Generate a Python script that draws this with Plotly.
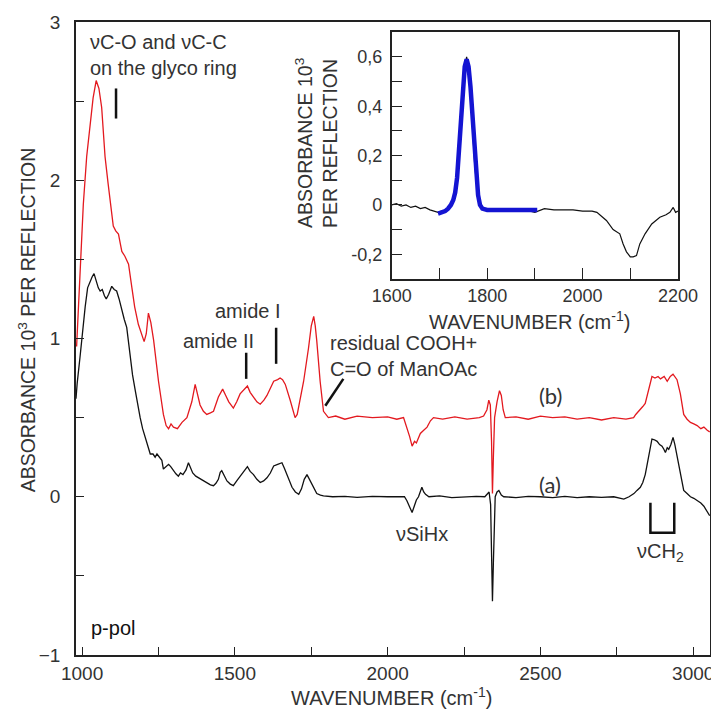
import plotly.graph_objects as go

# ---------------- data ----------------
# spectrum (b), red
wn_b = [982, 986, 995, 1004, 1015, 1026, 1036, 1046, 1055, 1064, 1075, 1085, 1095, 1102, 1110,
        1119, 1125, 1130, 1140, 1152, 1163, 1172, 1184, 1195, 1203, 1210, 1217, 1225, 1234, 1250,
        1266, 1275, 1283, 1291, 1299, 1312, 1327, 1343, 1359, 1370, 1378, 1386, 1397, 1408, 1420,
        1430, 1446, 1460, 1470, 1480, 1495, 1506, 1517, 1530, 1541, 1550, 1561, 1572, 1583, 1595,
        1605, 1616, 1627, 1640, 1648, 1656, 1665, 1681, 1690, 1697, 1704, 1715, 1725, 1741, 1750,
        1758, 1763, 1768, 1779, 1790, 1806, 1830, 1860, 1900, 1950, 2000, 2030, 2052, 2063, 2072,
        2080, 2088, 2094, 2101, 2107, 2118, 2129, 2140, 2150, 2180, 2220, 2260, 2300, 2314, 2325,
        2331, 2336, 2340, 2343, 2346, 2350, 2358, 2366, 2372, 2378, 2385, 2420, 2460, 2500, 2540,
        2580, 2620, 2660, 2700, 2740, 2780, 2805, 2812, 2822, 2835, 2843, 2852, 2860, 2865, 2875,
        2885, 2893, 2905, 2915, 2925, 2934, 2940, 2947, 2958, 2969, 2980, 2991, 3002, 3013, 3025,
        3035, 3046, 3054]
abs_b = [0.95, 1.10, 1.45, 1.85, 2.15, 2.35, 2.52, 2.63, 2.58, 2.46, 2.15, 1.98, 1.84, 1.71, 1.68,
         1.66, 1.60, 1.55, 1.52, 1.47, 1.32, 1.20, 1.09, 1.02, 0.98, 1.03, 1.16, 1.10, 0.99, 0.73,
         0.52, 0.45, 0.43, 0.46, 0.44, 0.43, 0.47, 0.50, 0.60, 0.71, 0.65, 0.58, 0.54, 0.52, 0.53,
         0.54, 0.63, 0.68, 0.64, 0.60, 0.56, 0.60, 0.65, 0.68, 0.70, 0.66, 0.63, 0.60, 0.585, 0.61,
         0.64, 0.69, 0.73, 0.74, 0.75, 0.74, 0.71, 0.61, 0.54, 0.50, 0.52, 0.62, 0.73, 0.94, 1.08,
         1.14, 1.08, 0.985, 0.73, 0.54, 0.50, 0.51, 0.49, 0.51, 0.50, 0.505, 0.49, 0.50, 0.44, 0.38,
         0.32, 0.35, 0.34, 0.38, 0.40, 0.42, 0.44, 0.48, 0.50, 0.49, 0.505, 0.49, 0.50, 0.51, 0.55,
         0.61, 0.58, 0.35, 0.02, 0.25, 0.50, 0.60, 0.67, 0.64, 0.55, 0.50, 0.505, 0.49, 0.51, 0.50,
         0.505, 0.49, 0.50, 0.485, 0.50, 0.49, 0.50, 0.52, 0.54, 0.57, 0.59, 0.66, 0.73, 0.76, 0.75,
         0.76, 0.745, 0.76, 0.73, 0.76, 0.775, 0.76, 0.74, 0.65, 0.52, 0.49, 0.47, 0.46, 0.45, 0.43,
         0.44, 0.42, 0.41]

# spectrum (a), black
wn_a = [980, 984, 993, 1001, 1010, 1018, 1026, 1033, 1039, 1046, 1053, 1059, 1066, 1073, 1079,
        1087, 1097, 1105, 1113, 1121, 1130, 1138, 1146, 1151, 1157, 1165, 1174, 1182, 1190, 1198,
        1206, 1215, 1223, 1232, 1239, 1245, 1253, 1261, 1266, 1274, 1283, 1290, 1299, 1307, 1315,
        1322, 1330, 1340, 1348, 1355, 1362, 1372, 1381, 1395, 1408, 1420, 1430, 1438, 1446, 1452,
        1457, 1465, 1474, 1485, 1495, 1506, 1517, 1530, 1541, 1550, 1561, 1572, 1583, 1594, 1605,
        1616, 1627, 1640, 1654, 1662, 1670, 1680, 1687, 1698, 1709, 1718, 1727, 1736, 1744, 1752,
        1760, 1768, 1780, 1790, 1820, 1860, 1900, 1950, 2000, 2040, 2055, 2063, 2072, 2080, 2087,
        2094, 2101, 2106, 2112, 2118, 2124, 2135, 2170, 2210, 2250, 2290, 2318, 2325, 2332, 2337,
        2340, 2343, 2346, 2349, 2352, 2358, 2364, 2372, 2380, 2420, 2460, 2500, 2540, 2580, 2620,
        2660, 2700, 2740, 2773, 2790, 2806, 2816, 2827, 2835, 2843, 2848, 2854, 2860, 2865, 2873,
        2882, 2890, 2898, 2904, 2909, 2915, 2920, 2927, 2934, 2940, 2947, 2952, 2958, 2963, 2969,
        2980, 2991, 3002, 3013, 3025, 3035, 3046, 3054]
abs_a = [0.62, 0.72, 0.88, 1.05, 1.20, 1.32, 1.365, 1.39, 1.41, 1.36, 1.32, 1.30, 1.31, 1.27, 1.25,
         1.28, 1.33, 1.31, 1.30, 1.25, 1.175, 1.12, 1.07, 0.98, 0.88, 0.77, 0.67, 0.58, 0.50, 0.43,
         0.375, 0.31, 0.27, 0.27, 0.25, 0.27, 0.25, 0.23, 0.175, 0.19, 0.205, 0.19, 0.165, 0.145, 0.13,
         0.15, 0.14, 0.17, 0.215, 0.18, 0.15, 0.13, 0.12, 0.10, 0.09, 0.075, 0.07, 0.085, 0.11, 0.155,
         0.165, 0.13, 0.10, 0.08, 0.07, 0.10, 0.13, 0.16, 0.19, 0.16, 0.14, 0.11, 0.09, 0.10, 0.12,
         0.15, 0.195, 0.205, 0.215, 0.18, 0.14, 0.09, 0.06, 0.03, 0.015, 0.05, 0.11, 0.14, 0.11, 0.08,
         0.045, 0.02, 0.01, 0.005, 0.0, 0.003, -0.004, 0.002, 0.0, -0.003, 0.0, -0.025, -0.06, -0.10, -0.06,
         -0.02, 0.0, 0.03, 0.06, 0.03, 0.015, 0.0, 0.005, -0.005, 0.0, 0.003, 0.0, 0.015, 0.03, -0.05,
         -0.30, -0.66, -0.42, -0.10, 0.0, 0.03, 0.04, 0.01, 0.0, -0.005, 0.003, 0.0, -0.005, 0.002, -0.006,
         0.0, -0.004, 0.0, -0.015, 0.0, 0.02, 0.04, 0.06, 0.09, 0.14, 0.19, 0.25, 0.32, 0.365, 0.36,
         0.35, 0.33, 0.32, 0.30, 0.28, 0.31, 0.30, 0.33, 0.375, 0.33, 0.26, 0.20, 0.14, 0.09, 0.04,
         0.02, 0.0, -0.01, -0.025, -0.04, -0.06, -0.10, -0.12]

# inset: measured spectrum (black)
wn_in = [1600, 1610, 1620, 1630, 1640, 1650, 1660, 1670, 1680, 1690, 1697, 1705, 1715, 1725, 1732,
         1739, 1746, 1752, 1757, 1762, 1767, 1774, 1781, 1788, 1800, 1820, 1840, 1860, 1880, 1900,
         1920, 1940, 1960, 1980, 2000, 2020, 2030, 2040, 2050, 2064, 2078, 2085, 2092, 2100, 2106,
         2113, 2120, 2131, 2145, 2162, 2175, 2183, 2190, 2195, 2200]
abs_in = [0.0, 0.005, -0.005, 0.0, -0.01, -0.005, -0.015, -0.01, -0.02, -0.025, -0.03, -0.025, -0.02,
          0.0, 0.03, 0.16, 0.40, 0.55, 0.60, 0.55, 0.40, 0.16, 0.02, -0.015, -0.02, -0.025, -0.015,
          -0.025, -0.02, -0.03, -0.015, -0.02, -0.02, -0.02, -0.025, -0.025, -0.03, -0.045, -0.063,
          -0.10, -0.117, -0.158, -0.19, -0.21, -0.21, -0.205, -0.158, -0.117, -0.077, -0.05, -0.04,
          -0.03, -0.01, -0.03, -0.025]

# inset: fitted band (blue)
wn_fit = [1697, 1705, 1712, 1718, 1724, 1729, 1733, 1737, 1741, 1745, 1749, 1753, 1757, 1761, 1765,
          1769, 1773, 1777, 1781, 1785, 1790, 1800, 1850, 1905]
abs_fit = [-0.035, -0.03, -0.025, -0.015, 0.0, 0.02, 0.05, 0.11, 0.22, 0.36, 0.48, 0.56, 0.59, 0.56,
           0.48, 0.36, 0.22, 0.11, 0.04, 0.0, -0.015, -0.02, -0.02, -0.02]

main_xticks = [1000, 1500, 2000, 2500, 3000]
main_yticks = [-1, 0, 1, 2, 3]
inset_xticks = [1600, 1800, 2000, 2200]
inset_yticks = [-0.2, 0, 0.2, 0.4, 0.6]
inset_yticktext = ["-0,2", "0", "0,2", "0,4", "0,6"]

# ---------------- figure ----------------
FONT = "Liberation Sans, Arial, sans-serif"
TXT = "#333333"
RED = "#e3191f"
BLACK = "#111111"
BLUE = "#1414d2"

fig = go.Figure()
fig.add_trace(go.Scatter(x=wn_a, y=abs_a, mode="lines", line=dict(color=BLACK, width=1.3),
                         xaxis="x", yaxis="y", showlegend=False))
fig.add_trace(go.Scatter(x=wn_b, y=abs_b, mode="lines", line=dict(color=RED, width=1.3),
                         xaxis="x", yaxis="y", showlegend=False))
fig.add_trace(go.Scatter(x=wn_in, y=abs_in, mode="lines", line=dict(color=BLACK, width=1.2),
                         xaxis="x2", yaxis="y2", showlegend=False))
fig.add_trace(go.Scatter(x=wn_fit, y=abs_fit, mode="lines", line=dict(color=BLUE, width=4.5),
                         xaxis="x2", yaxis="y2", showlegend=False))

axis_common = dict(showline=True, linecolor="#222222", linewidth=1.5, mirror=True,
                   showgrid=False, zeroline=False, ticks="inside", tickcolor="#222222",
                   tickwidth=1.3, automargin=False)
main_tickfont = dict(family=FONT, size=19, color=TXT)
inset_tickfont = dict(family=FONT, size=18, color=TXT)

# the page body adds an 8 px offset, so the figure is 8 px smaller and margins compensate
fig.update_layout(
    width=711, height=701,
    margin=dict(l=68, r=9, t=14, b=54),
    paper_bgcolor="white", plot_bgcolor="white",
    showlegend=False,
    xaxis=dict(domain=[0, 1], range=[980, 3055], tickvals=main_xticks, ticklen=8,
               minor=dict(ticks="inside", dtick=250, tick0=1000, ticklen=8, tickcolor="#222222", tickwidth=1.3),
               ticklabelstandoff=0, anchor="y", tickfont=main_tickfont, **axis_common),
    yaxis=dict(domain=[0, 1], range=[-1, 3], tickvals=main_yticks, ticklen=8,
               minor=dict(ticks="inside", dtick=0.5, tick0=0, ticklen=8, tickcolor="#222222", tickwidth=1.3),
               ticklabelstandoff=10, anchor="x", tickfont=main_tickfont, **axis_common),
    xaxis2=dict(domain=[0.498, 0.9495], range=[1600, 2200], tickvals=inset_xticks, ticklen=11,
                minor=dict(ticks="inside", dtick=100, tick0=1600, ticklen=11, tickcolor="#222222", tickwidth=1.3),
                ticklabelstandoff=0, anchor="y2", tickfont=inset_tickfont, **axis_common),
    yaxis2=dict(domain=[0.594, 0.984], range=[-0.3, 0.7], tickvals=inset_yticks,
                ticktext=inset_yticktext, ticklen=11,
                minor=dict(ticks="inside", dtick=0.1, tick0=0, ticklen=11, tickcolor="#222222", tickwidth=1.3),
                ticklabelstandoff=4, anchor="x2", tickfont=inset_tickfont, **axis_common),
)

ann_font = dict(family=FONT, size=20, color=TXT)
annotations = [
    # axis titles
    dict(text="WAVENUMBER (cm<sup>-1</sup>)", xref="paper", yref="paper", x=0.497, y=-0.066,
         xanchor="center", yanchor="middle", showarrow=False,
         font=dict(family=FONT, size=20, color=TXT)),
    dict(text="ABSORBANCE 10<sup>3</sup> PER REFLECTION", xref="paper", yref="paper",
         x=-0.077, y=0.529, xanchor="center", yanchor="middle", textangle=-90, showarrow=False,
         font=dict(family=FONT, size=19.5, color=TXT)),
    dict(text="WAVENUMBER (cm<sup>-1</sup>)", xref="paper", yref="paper", x=0.716, y=0.529,
         xanchor="center", yanchor="middle", showarrow=False,
         font=dict(family=FONT, size=20, color=TXT)),
    dict(text="ABSORBANCE 10<sup>3</sup><br>PER REFLECTION", xref="paper", yref="paper",
         x=0.379, y=0.672, xanchor="center", yanchor="bottom", textangle=-90, align="left",
         showarrow=False, font=dict(family=FONT, size=19.5, color=TXT)),
    # band labels
    dict(text="νC-O and νC-C<br>on the glyco ring", x=1018, y=2.79, xanchor="left",
         yanchor="middle", align="left", showarrow=False, font=ann_font),
    dict(text="amide I", x=1544, y=1.175, showarrow=False, font=ann_font),
    dict(text="amide II", x=1447, y=0.985, showarrow=False, font=ann_font),
    dict(text="residual COOH+<br>C=O of ManOAc", x=1805, y=0.888, xanchor="left",
         yanchor="middle", align="left", showarrow=False, font=ann_font),
    dict(text="(b)", x=2532, y=0.638, showarrow=False, font=dict(family="Lato, sans-serif", size=22, color=TXT)),
    dict(text="(a)", x=2532, y=0.076, showarrow=False, font=dict(family="Lato, sans-serif", size=22, color=TXT)),
    dict(text="νSiHx", x=2112, y=-0.234, showarrow=False, font=ann_font),
    dict(text="νCH<sub>2</sub>", x=2893, y=-0.35, showarrow=False, font=ann_font),
    dict(text="p-pol", x=1101, y=-0.83, showarrow=False, font=dict(family=FONT, size=20, color="#111111")),
]
fig.update_layout(annotations=annotations)

bar = dict(color="#111111", width=2.5)
shapes = [
    dict(type="line", xref="x", yref="y", x0=1111, x1=1111, y0=2.39, y1=2.58, line=bar),
    dict(type="line", xref="x", yref="y", x0=1635, x1=1635, y0=0.84, y1=1.068, line=bar),
    dict(type="line", xref="x", yref="y", x0=1537, x1=1537, y0=0.745, y1=0.91, line=bar),
    dict(type="line", xref="x", yref="y", x0=1796, x1=1855, y0=0.575, y1=0.745, line=bar),
    dict(type="path", xref="x", yref="y",
         path="M 2860 -0.038 L 2860 -0.227 L 2938 -0.227 L 2938 -0.038", line=bar),
]
fig.update_layout(shapes=shapes)

fig.write_html("out.html")
